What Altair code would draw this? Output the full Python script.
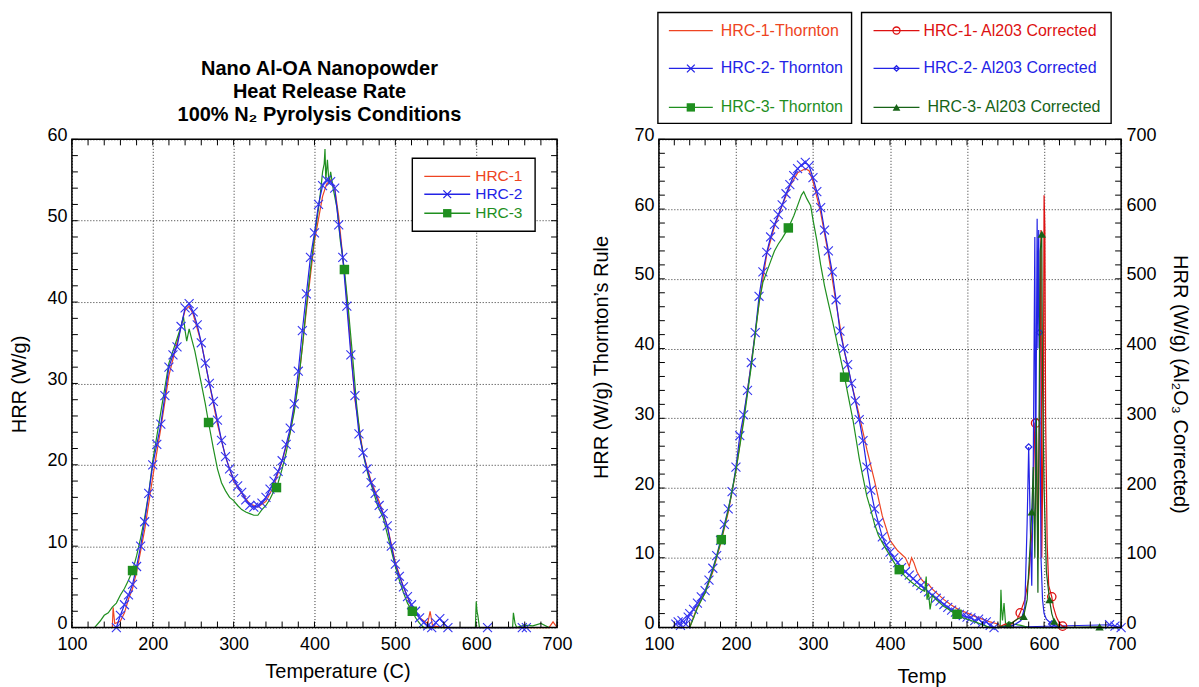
import altair as alt
import pandas as pd

FONT = "Liberation Sans"
C_RED = "#ee4422"
C_BLUE = "#2323e6"
C_GREEN = "#1f8f1f"
C_RED2 = "#dd1111"
C_GREEN2 = "#176317"
X_SHAPE = "M-1,-1L1,1M-1,1L1,-1"

# ---------------- left panel data (Temperature, HRR W/g) ----------------
L1_T = [150, 151, 153, 156, 160, 165, 170, 175, 180, 190,
        200, 210, 220, 230, 240, 245, 250, 260, 270, 280,
        290, 300, 310, 320, 330, 340, 350, 360, 370, 380,
        390, 400, 410, 415, 420, 425, 430, 440, 450, 460,
        470, 480, 490, 500, 510, 520, 530, 540, 543, 546,
        560, 600, 650, 690, 695, 700]
L1_V = [0, 2.5, 0.5, 0.6, 0.8, 1.8, 3.5, 4.8, 6.8, 12.0,
        18.5, 24.5, 31.0, 35.0, 39.0, 39.5, 38.5, 35.0, 30.0, 25.0,
        21.0, 18.0, 16.5, 15.2, 14.8, 15.5, 17.5, 20.5, 24.0, 30.0,
        39.0, 47.5, 53.0, 54.5, 55.0, 54.0, 50.5, 40.5, 28.0, 21.5,
        18.0, 15.5, 12.5, 8.0, 5.0, 2.5, 1.2, 0.5, 2.0, 0.2,
        0, 0, 0, 0, 0.7, 0]

L2_T = [155, 160, 165, 170, 175, 180, 185, 190, 195, 200,
        205, 210, 215, 220, 225, 230, 235, 240, 245, 250,
        255, 260, 265, 270, 275, 280, 285, 290, 295, 300,
        305, 310, 315, 320, 325, 330, 335, 340, 345, 350,
        355, 360, 365, 370, 375, 380, 385, 390, 395, 400,
        405, 410, 415, 420, 425, 430, 435, 440, 445, 450,
        455, 460, 465, 470, 475, 480, 485, 490, 495, 500,
        505, 510, 515, 520, 525, 530, 535, 540, 545, 550,
        555, 560, 565, 614, 657, 662]
L2_V = [0, 1.5, 2.8, 4.0, 5.3, 7.5, 10.0, 13.0, 16.5, 20.0,
        22.5, 25.0, 28.5, 32.0, 33.5, 34.5, 37.0, 39.3, 39.8, 38.8,
        37.2, 35.0, 32.5, 30.0, 27.8, 25.5, 23.0, 21.0, 19.5, 18.3,
        17.4, 16.6, 15.7, 15.0, 14.8, 15.0, 15.3, 16.0, 17.0, 18.0,
        19.2, 20.5, 22.5, 24.5, 27.5, 31.5, 36.5, 41.0, 45.5, 48.5,
        52.0, 54.3, 55.0, 54.8, 54.0, 49.5, 45.5, 39.5, 33.5, 28.5,
        23.8, 21.5, 19.5, 17.8, 16.5, 15.0, 14.0, 12.5, 10.0, 7.8,
        6.3, 5.0, 3.8, 2.8, 2.0, 1.2, 0.6, 0.2, 0.0, 0.6,
        1.1, 0.5, 0, 0, 0, 0]

L3_T = [128, 135, 140, 145, 150, 155, 160, 165, 170, 175,
        180, 185, 190, 195, 200, 205, 210, 215, 220, 225,
        230, 235, 238, 240, 242, 245, 248, 252, 256, 260,
        265, 269, 275, 280, 285, 290, 295, 300, 305, 310,
        315, 320, 325, 330, 335, 340, 345, 350, 355, 360,
        365, 370, 375, 380, 385, 390, 395, 400, 405, 408,
        410, 412, 413, 414, 416, 418, 420, 423, 428, 432,
        437, 442, 447, 452, 457, 462, 467, 472, 478, 485,
        490, 495, 500, 505, 510, 515, 521, 525, 530, 535,
        599, 600, 601, 602, 604, 645, 646, 648, 650, 660,
        670, 680, 690]
L3_V = [0, 0.8, 1.5, 1.8, 2.5, 3.0, 4.0, 4.8, 5.8, 7.0,
        8.8, 11.0, 13.5, 16.5, 20.5, 23.5, 26.5, 29.5, 32.5, 34.0,
        35.5, 37.0, 38.2, 36.5, 35.2, 36.7, 35.5, 34.0, 32.0, 30.0,
        27.5, 25.2, 22.0, 19.5, 17.8, 16.8, 16.0, 15.6, 15.0, 14.5,
        14.2, 14.0, 13.8, 13.8, 14.5, 15.0, 15.8, 16.8, 17.8, 19.5,
        21.5, 24.0, 26.5, 30.0, 34.5, 39.5, 44.0, 48.0, 51.5, 54.0,
        56.0, 57.0, 58.8, 55.0, 57.5, 54.5, 56.0, 54.0, 51.5, 47.5,
        44.0, 39.0, 33.5, 27.5, 23.0, 20.5, 18.5, 17.0, 15.0, 13.5,
        11.5, 9.5, 7.5, 5.8, 4.3, 3.0, 2.0, 1.2, 0.5, 0,
        0, 3.2, 2.0, 1.5, 0, 0, 1.8, 0.5, 0, 0.3,
        0.2, 0.5, 0]
L3M_T = [175, 269, 353, 437, 521]
L3M_V = [7.0, 25.2, 17.2, 44.0, 2.0]

# ---------------- right panel data (Temp; Thornton W/g and Al2O3 corrected) ----------------
R1_T = [140, 145, 150, 160, 170, 180, 190, 200, 210, 220,
        230, 240, 250, 260, 270, 280, 290, 295, 300, 310,
        320, 330, 340, 350, 360, 370, 380, 390, 400, 410,
        420, 425, 428, 431, 435, 440, 445, 450, 455, 460,
        470, 480, 490, 500, 510, 520, 530, 540, 545]
R1_V = [0, 1.5, 3.0, 5.0, 8.0, 12.0, 16.5, 22.5, 30.0, 38.0,
        46.5, 53.5, 57.5, 60.5, 63.3, 65.2, 65.8, 65.5, 64.0, 59.5,
        53.5, 46.5, 40.0, 35.0, 30.5, 25.5, 21.0, 16.0, 12.5, 11.0,
        10.0, 8.8, 10.0, 9.3, 8.0, 7.0, 6.4, 6.2, 5.5, 5.0,
        4.0, 3.2, 2.5, 2.1, 1.6, 1.2, 0.8, 0.5, 0]

R2_T = [122, 125, 128, 130, 135, 138, 140, 145, 150, 155,
        160, 165, 170, 175, 180, 185, 190, 195, 200, 205,
        210, 215, 220, 225, 230, 235, 240, 245, 250, 255,
        260, 265, 270, 275, 280, 285, 290, 295, 300, 305,
        310, 315, 320, 325, 330, 335, 340, 345, 350, 355,
        360, 365, 370, 375, 380, 385, 390, 395, 400, 405,
        410, 415, 420, 425, 430, 435, 440, 445, 450, 455,
        460, 465, 470, 475, 480, 485, 490, 495, 500, 505,
        510, 515, 520, 525, 530, 535, 685, 692, 700]
R2_V = [0.5, 0.8, 0.3, 1.0, 0.5, 1.5, 2.0, 2.6, 3.5, 4.4,
        5.3, 6.8, 8.5, 10.3, 12.5, 14.8, 17.0, 19.5, 23.0, 27.5,
        30.5, 34.0, 38.0, 42.3, 47.5, 51.0, 53.8, 56.0, 57.8, 59.2,
        60.6, 62.2, 63.5, 64.8, 65.8, 66.3, 66.7, 66.2, 64.5, 62.5,
        60.2, 57.0, 54.0, 51.0, 47.0, 42.5, 40.0, 37.7, 35.0, 32.5,
        29.8, 26.8, 23.0, 19.7, 17.0, 15.0, 13.0, 11.8, 10.8, 10.0,
        9.3, 8.6, 8.0, 7.5, 7.0, 6.5, 6.0, 5.6, 5.1, 4.6,
        4.2, 3.8, 3.3, 2.9, 2.5, 2.2, 1.9, 1.7, 1.5, 1.4,
        1.0, 1.2, 0.7, 0.8, 0.3, 0, 0.4, 0.2, 0]

R3_T = [140, 150, 160, 170, 181, 190, 200, 210, 220, 225,
        230, 235, 240, 245, 250, 255, 260, 268, 275, 280,
        285, 288, 292, 297, 300, 305, 310, 315, 320, 326,
        333, 341, 347, 352, 356, 360, 365, 370, 375, 380,
        385, 393, 400, 406, 412, 420, 428, 435, 440, 445,
        447, 448, 450, 452, 455, 460, 465, 470, 475, 480,
        487, 495, 505, 513, 520, 530, 543, 544, 545, 546,
        548, 550, 555, 560, 570, 580, 700]
R3_V = [0, 2.8, 5.0, 8.2, 12.6, 16.8, 22.5, 29.5, 37.5, 42.0,
        46.5, 49.5, 51.0, 52.5, 54.0, 55.0, 55.8, 57.3, 59.0, 60.5,
        62.0, 62.5, 61.5, 60.5, 58.5, 55.5, 52.0, 49.0, 46.5, 43.6,
        40.0, 35.9, 32.5, 29.7, 27.0, 24.3, 21.5, 18.8, 16.9, 14.8,
        13.2, 11.6, 10.3, 9.2, 8.3, 7.3, 6.5, 5.9, 5.5, 5.2,
        7.3, 4.0, 5.0, 2.6, 4.6, 4.0, 3.5, 3.0, 2.7, 2.3,
        1.9, 1.4, 1.0, 0.7, 0.4, 0, 0, 5.4, 2.5, 1.0,
        3.5, 0.5, 0.8, 0.5, 0.3, 0, 0]
R3M_T = [181, 268, 341, 412, 487]
R3M_V = [12.6, 57.3, 35.9, 8.3, 1.9]

C1_T = [540, 550, 555, 560, 565, 569, 575, 580, 585, 588,
        590, 592, 594, 596, 597, 599, 600, 601, 602, 604,
        606, 610, 612, 616, 620, 624, 630]
C1_V = [0, 5, 2, 8, 12, 21, 40, 70, 150, 293,
        293, 100, 300, 570, 100, 300, 620, 573, 300, 120,
        60, 44, 30, 15, 6, 2, 0]
C1M_T = [569, 589, 610, 624]
C1M_V = [21, 293, 44, 2]

C2_T = [540, 560, 570, 575, 578, 580, 582, 584, 586, 588,
        589, 591, 592, 593, 594, 596, 598, 600, 603, 607,
        610, 615, 620]
C2_V = [0, 3, 10, 30, 150, 259, 150, 60, 240, 560,
        200, 586, 400, 570, 423, 100, 40, 20, 12, 8,
        5, 2, 0]
C2M_T = [580, 594, 610]
C2M_V = [259, 423, 5]

C3_T = [540, 554, 560, 565, 573.5, 578, 582, 584, 586, 588,
        590, 592, 594, 595, 597, 598, 600, 603, 607, 610,
        613, 617, 620, 672, 680]
C3_V = [0, 4, 8, 12, 16, 40, 120, 166, 230, 100,
        300, 50, 380, 540, 564, 350, 200, 80, 40, 20,
        9, 3, 0, 1, 0]
C3M_T = [554, 573.5, 584, 597, 607, 613, 672]
C3M_V = [4, 16, 166, 564, 40, 9, 1]

# axis ticks / labels
X_LABELS = [100, 200, 300, 400, 500, 600, 700]
X_MINOR = list(range(100, 701, 20))
YL_LABELS = [0, 10, 20, 30, 40, 50, 60]
YL_MINOR = list(range(0, 61, 2))
YR_LABELS = [0, 10, 20, 30, 40, 50, 60, 70]
YR_MINOR = list(range(0, 71, 2))
YC_LABELS = [0, 100, 200, 300, 400, 500, 600, 700]
YC_MINOR = list(range(0, 701, 20))

LW, LH = 486, 489
RW, RH = 463, 489
TICK = 6
ONE = alt.Data(values=[{"k": 1}])


def enc_x(sx, axis=None):
    return alt.X("T:Q", scale=sx) if axis is None else alt.X("T:Q", scale=sx, axis=axis)


def enc_y(field, sy, axis=None):
    return alt.Y(f"{field}:Q", scale=sy) if axis is None else alt.Y(f"{field}:Q", scale=sy, axis=axis)


def line(t, v, color, sx, sy, field="V", width=1.2, xaxis=None, yaxis=None):
    d = pd.DataFrame({"T": t, field: v})
    return alt.Chart(d).mark_line(color=color, strokeWidth=width).encode(
        x=enc_x(sx, xaxis), y=enc_y(field, sy, yaxis))


def points(t, v, sx, sy, field="V", **kw):
    d = pd.DataFrame({"T": t, field: v})
    return alt.Chart(d).mark_point(opacity=1, **kw).encode(x=enc_x(sx), y=enc_y(field, sy))


def xticks(sx, h):
    d = pd.DataFrame({"T": X_MINOR})
    bottom = alt.Chart(d).mark_rule(color="black", strokeWidth=1).encode(
        x=enc_x(sx), y=alt.value(h), y2=alt.value(h - TICK))
    top = alt.Chart(d).mark_rule(color="black", strokeWidth=1).encode(
        x=enc_x(sx), y=alt.value(0), y2=alt.value(TICK))
    return [bottom, top]


def yticks(vals, sy, field, x0, x1):
    d = pd.DataFrame({field: vals})
    return alt.Chart(d).mark_rule(color="black", strokeWidth=1).encode(
        y=enc_y(field, sy), x=alt.value(x0), x2=alt.value(x1))


def frame(w, h):
    return alt.Chart(ONE).mark_rect(fillOpacity=0, stroke="black", strokeWidth=1.5).encode(
        x=alt.value(0), x2=alt.value(w), y=alt.value(0), y2=alt.value(h))


def box(x1, x2, y1, y2):
    return alt.Chart(ONE).mark_rect(fill="white", stroke="black", strokeWidth=1.4).encode(
        x=alt.value(x1), x2=alt.value(x2), y=alt.value(y1), y2=alt.value(y2))


def entry(x1, x2, y, tx, label, color, tcolor, fsize, shape=None, filled=False, msize=64):
    out = [alt.Chart(ONE).mark_rule(color=color, strokeWidth=1.3).encode(
        x=alt.value(x1), x2=alt.value(x2), y=alt.value(y))]
    if shape:
        out.append(alt.Chart(ONE).mark_point(shape=shape, filled=filled, size=msize, color=color,
                                             strokeWidth=1.3, opacity=1).encode(
            x=alt.value((x1 + x2) / 2), y=alt.value(y)))
    out.append(alt.Chart(ONE).mark_text(text=label, align="left", baseline="middle", font=FONT,
                                        fontSize=fsize, color=tcolor).encode(
        x=alt.value(tx), y=alt.value(y)))
    return out


COMMON = dict(ticks=False, domain=False, labelFlush=False, labelOverlap=False,
              labelFont=FONT, titleFont=FONT, labelFontSize=18, titleFontSize=20,
              labelColor="black", titleColor="black", titleFontWeight="normal",
              titleBaseline="middle", titleAlign="center")
GRID = dict(grid=True, gridDash=[1, 2], gridColor="#000", gridWidth=0.9, gridOpacity=0.9, **COMMON)

# ---------------- left chart ----------------
sxl = alt.Scale(domain=[100, 700], nice=False, zero=False)
syl = alt.Scale(domain=[0, 60], nice=False)
xaxis_l = alt.Axis(values=X_LABELS, title="Temperature (C)", labelPadding=8,
                   titleX=266, titleY=44, **GRID)
yaxis_l = alt.Axis(values=YL_LABELS, title="HRR (W/g)", labelPadding=5, labelOffset=-4,
                   titleX=-52, titleY=245, titleAngle=270, **GRID)

left_layers = [
    line(L1_T, L1_V, C_RED, sxl, syl, xaxis=xaxis_l, yaxis=yaxis_l),
    line(L3_T, L3_V, C_GREEN, sxl, syl),
    line(L2_T, L2_V, C_BLUE, sxl, syl),
    points(L2_T, L2_V, sxl, syl, shape=X_SHAPE, size=81, color="#3535f0", strokeWidth=1.1, filled=False),
    points(L3M_T, L3M_V, sxl, syl, shape="square", size=90, color=C_GREEN, filled=True),
    *xticks(sxl, LH),
    yticks(YL_MINOR, syl, "V", 0, TICK),
    yticks(YL_MINOR, syl, "V", LW - TICK, LW),
    frame(LW, LH),
    box(341, 464, 19, 92),
    *entry(353, 399, 37, 404, "HRC-1", C_RED, C_RED, 15.5),
    *entry(353, 399, 55, 404, "HRC-2", C_BLUE, C_BLUE, 15.5, shape=X_SHAPE, msize=60),
    *entry(353, 399, 74, 404, "HRC-3", C_GREEN, C_GREEN, 15.5, shape="square", filled=True, msize=70),
]
left = alt.layer(*left_layers).properties(
    width=LW, height=LH,
    title=alt.TitleParams(
        text=["Nano Al-OA Nanopowder", "Heat Release Rate", "100% N\u2082 Pyrolysis Conditions"],
        font=FONT, fontSize=20, fontWeight="bold", lineHeight=23, anchor="middle",
        offset=1, dx=5, color="black"),
)

# ---------------- right chart ----------------
sxr = alt.Scale(domain=[100, 700], nice=False, zero=False)
syr = alt.Scale(domain=[0, 70], nice=False)
syc = alt.Scale(domain=[0, 700], nice=False)
xaxis_r = alt.Axis(values=X_LABELS, title="Temp", labelPadding=8,
                   titleX=263, titleY=49, **GRID)
yaxis_r = alt.Axis(values=YR_LABELS, title="HRR (W/g) Thornton\u2019s Rule", labelPadding=5,
                   labelOffset=-4, orient="left", titleX=-57, titleY=218, titleAngle=270, **GRID)
yaxis_c = alt.Axis(values=YC_LABELS, title="HRR (W/g) (Al\u2082O\u2083 Corrected)", labelPadding=5,
                   labelOffset=-4, orient="right", titleX=58, titleY=245, titleAngle=90,
                   grid=False, **COMMON)

thornton = alt.layer(
    line(R1_T, R1_V, C_RED, sxr, syr, xaxis=xaxis_r, yaxis=yaxis_r),
    line(R2_T, R2_V, C_BLUE, sxr, syr),
    points(R2_T, R2_V, sxr, syr, shape=X_SHAPE, size=81, color="#3535f0", strokeWidth=1.1, filled=False),
    line(R3_T, R3_V, C_GREEN, sxr, syr),
    points(R3M_T, R3M_V, sxr, syr, shape="square", size=90, color=C_GREEN, filled=True),
    yticks(YR_MINOR, syr, "V", 0, TICK),
)
corrected = alt.layer(
    line(C1_T, C1_V, C_RED2, sxr, syc, field="C", width=1.2, yaxis=yaxis_c),
    points(C1M_T, C1M_V, sxr, syc, field="C", shape="circle", size=70, color=C_RED2, strokeWidth=1.3, filled=False),
    line(C2_T, C2_V, C_BLUE, sxr, syc, field="C", width=1.2),
    points(C2M_T, C2M_V, sxr, syc, field="C", shape="diamond", size=40, color=C_BLUE, strokeWidth=1.2, filled=False),
    line(C3_T, C3_V, C_GREEN2, sxr, syc, field="C", width=1.2),
    points(C3M_T, C3M_V, sxr, syc, field="C", shape="triangle-up", size=70, color=C_GREEN2, filled=True),
    yticks(YC_MINOR, syc, "C", RW - TICK, RW),
)
right_deco = [
    *xticks(sxr, RH),
    frame(RW, RH),
    box(-1, 193, -127, -16),
    *entry(10, 54, -109, 62, "HRC-1-Thornton", C_RED, C_RED, 16),
    *entry(10, 54, -71, 62, "HRC-2- Thornton", C_BLUE, C_BLUE, 16, shape=X_SHAPE, msize=60),
    *entry(10, 54, -32, 62, "HRC-3- Thornton", C_GREEN, C_GREEN, 16, shape="square", filled=True, msize=70),
    box(203, 453, -127, -16),
    *entry(215, 261, -109, 265, "HRC-1- Al203 Corrected", C_RED2, C_RED2, 16, shape="circle", msize=50),
    *entry(215, 261, -71, 265, "HRC-2- Al203 Corrected", C_BLUE, C_BLUE, 16, shape="diamond", msize=30),
    *entry(215, 261, -32, 269, "HRC-3- Al203 Corrected", C_GREEN2, C_GREEN2, 16, shape="triangle-up", filled=True, msize=60),
]
right = alt.layer(thornton, corrected, *right_deco).resolve_scale(y="independent").properties(
    width=RW, height=RH)

chart = alt.hconcat(left, right, spacing=102, bounds="flush").properties(
    padding={"left": 2, "top": 3, "right": 2, "bottom": 0}
).configure_view(stroke=None)

chart.save("out.html", embed_options={"renderer": "svg", "actions": False})
